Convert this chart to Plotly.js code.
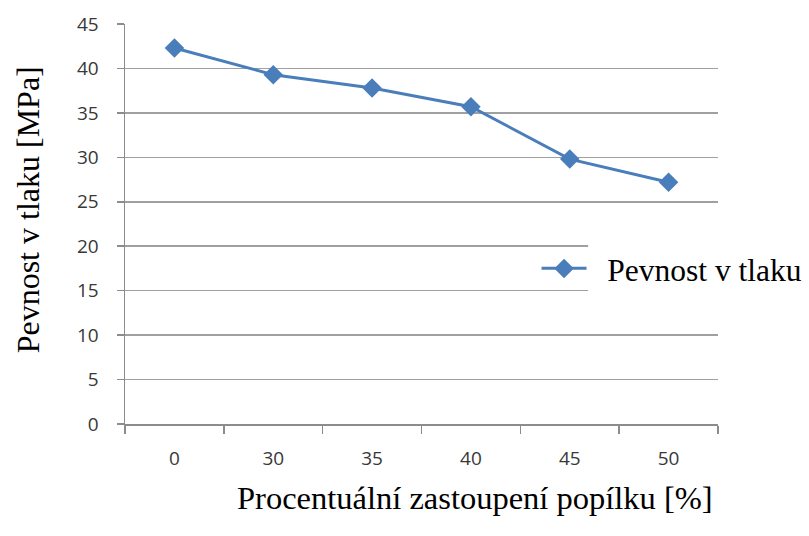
<!DOCTYPE html>
<html>
<head>
<meta charset="utf-8">
<script src="https://cdn.plot.ly/plotly-3.0.1.min.js"></script>
<style>
  html, body { margin: 0; padding: 0; background: #ffffff; }
  #chart { width: 809px; height: 536px; }
</style>
</head>
<body>
<div id="chart"></div>
<script>
// Compressive strength vs. fly-ash replacement share
const categories = ['0', '30', '35', '40', '45', '50'];
const strength = [42.3, 39.3, 37.8, 35.7, 29.8, 27.2];
const yTicks = [0, 5, 10, 15, 20, 25, 30, 35, 40, 45];

const seriesName = 'Pevnost v tlaku';
const xTitle = 'Procentuální zastoupení popílku [%]';
const yTitle = 'Pevnost v tlaku [MPa]';

const blue = '#4a7ebb';
const serif = '"Liberation Serif", "Times New Roman", serif';
const sans = '"Open Sans", "Noto Sans", sans-serif';

const trace = {
  type: 'scatter',
  mode: 'lines+markers',
  // leading spaces keep the label clear of the legend line
  name: '\u00a0\u00a0' + seriesName,
  x: categories,
  y: strength,
  line: { color: blue, width: 3 },
  marker: { symbol: 'diamond', size: 15, color: blue }
};

const layout = {
  width: 809,
  height: 536,
  paper_bgcolor: '#ffffff',
  plot_bgcolor: '#ffffff',
  margin: { l: 125, r: 91, t: 24, b: 112, autoexpand: false },
  showlegend: true,
  legend: {
    x: 0.694, y: 0.389, xanchor: 'left', yanchor: 'middle',
    bgcolor: 'rgba(0,0,0,0)',
    itemwidth: 45,
    font: { family: serif, size: 31.5, color: '#000000' }
  },
  xaxis: {
    type: 'category',
    range: [-0.5, 5.5],
    tickson: 'boundaries',
    ticks: 'outside',
    ticklen: 8,
    tickwidth: 1.5,
    tickcolor: '#8c8c8c',
    showline: true,
    linecolor: '#8c8c8c',
    linewidth: 1.5,
    showgrid: false,
    zeroline: false,
    ticklabelstandoff: 17,
    tickfont: { family: sans, size: 19, color: '#383838' },
    automargin: false,
    fixedrange: true
  },
  yaxis: {
    range: [0, 45],
    tickmode: 'array',
    tickvals: yTicks,
    ticktext: yTicks.map(String),
    ticks: 'outside',
    ticklen: 7,
    tickwidth: 1.5,
    tickcolor: '#8c8c8c',
    showline: true,
    linecolor: '#8c8c8c',
    linewidth: 1.5,
    showgrid: true,
    gridcolor: '#a0a0a0',
    gridwidth: 1.6,
    zeroline: false,
    ticklabelstandoff: 14,
    tickfont: { family: sans, size: 19, color: '#383838' },
    automargin: false,
    fixedrange: true
  },
  shapes: [{
    // clear the gridlines behind the legend entry
    type: 'rect', layer: 'above',
    xref: 'paper', yref: 'y',
    x0: 0.781, x1: 1.01, y0: 12.5, y1: 22.5,
    fillcolor: '#ffffff', line: { width: 0 }
  }],
  annotations: [
    {
      // horizontal axis title
      text: xTitle,
      xref: 'paper', yref: 'paper',
      x: 0.59, y: -0.184,
      xanchor: 'center', yanchor: 'middle',
      showarrow: false,
      font: { family: serif, size: 32.5, color: '#000000' }
    },
    {
      // vertical axis title
      text: yTitle,
      textangle: -90,
      xref: 'paper', yref: 'paper',
      x: -0.163, y: 0.535,
      xanchor: 'center', yanchor: 'middle',
      showarrow: false,
      font: { family: serif, size: 32, color: '#000000' }
    }
  ]
};

Plotly.newPlot('chart', [trace], layout, { staticPlot: true, displayModeBar: false });
</script>
</body>
</html>
